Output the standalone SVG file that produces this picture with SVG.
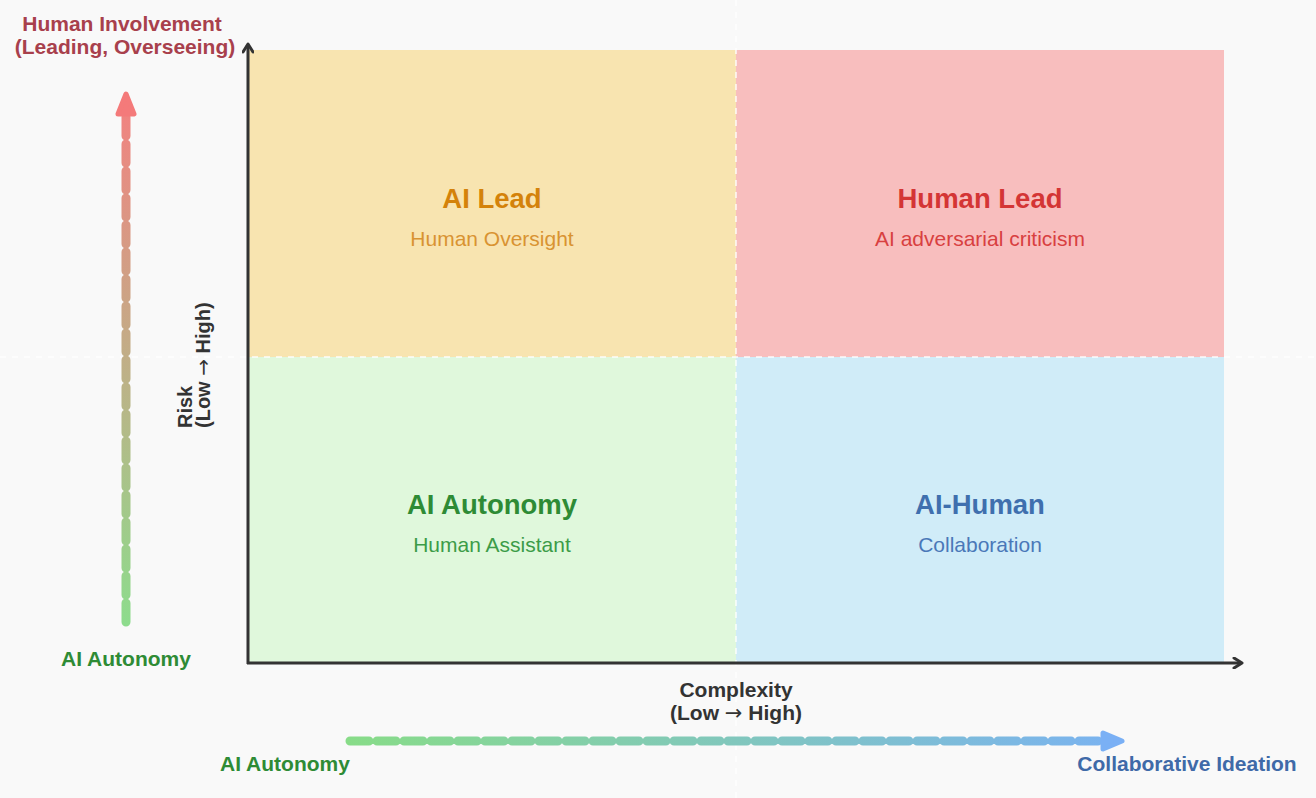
<svg xmlns="http://www.w3.org/2000/svg" width="1316" height="798" viewBox="0 0 1316 798">
<style>
text{font-family:"Liberation Sans",Arial,sans-serif}
.title{font-size:27.5px;font-weight:bold;text-anchor:middle}
.sub{font-size:21px;text-anchor:middle}
.lbl{font-size:21px;font-weight:bold;text-anchor:middle}
.arr{font-family:"DejaVu Sans",sans-serif;font-weight:normal}
.axis{stroke:#333;stroke-width:3;fill:none}
.grid{stroke:#ffffff;stroke-width:1.5;stroke-dasharray:6 6;opacity:0.9}
.flow{fill:none;stroke-width:9;stroke-linecap:round;stroke-dasharray:19 8}
</style>
<defs>
<marker id="ah" viewBox="0 0 12 12" refX="9" refY="6" markerWidth="12" markerHeight="12" markerUnits="userSpaceOnUse" orient="auto">
<path d="M2,1 L10,6 L2,11" fill="none" stroke="#333" stroke-width="3" stroke-linejoin="round" stroke-linecap="round"/>
</marker>
<linearGradient id="gv" gradientUnits="userSpaceOnUse" x1="126" y1="626" x2="126" y2="92">
<stop offset="0" stop-color="#8ddc8d"/>
<stop offset="1" stop-color="#f48080"/>
</linearGradient>
<linearGradient id="gh" gradientUnits="userSpaceOnUse" x1="346" y1="741" x2="1126" y2="741">
<stop offset="0" stop-color="#88dc88"/>
<stop offset="1" stop-color="#7ab2f2"/>
</linearGradient>
</defs>
<rect width="1316" height="798" fill="#f9f9f9"/>
<g id="quadrant-ai-lead">
<rect x="248" y="50" width="488" height="307" fill="#f8e4b0"/>
<text class="title" x="492" y="208" fill="#d4820a">AI Lead</text>
<text class="sub" x="492" y="246" fill="#d99332">Human Oversight</text>
</g>
<g id="quadrant-human-lead">
<rect x="736" y="50" width="488" height="307" fill="#f8bebe"/>
<text class="title" x="980" y="208" fill="#d43535">Human Lead</text>
<text class="sub" x="980" y="246" fill="#d84040">AI adversarial criticism</text>
</g>
<g id="quadrant-ai-autonomy">
<rect x="248" y="357" width="488" height="306" fill="#e0f8dc"/>
<text class="title" x="492" y="514" fill="#2e8b35">AI Autonomy</text>
<text class="sub" x="492" y="552" fill="#3c9c48">Human Assistant</text>
</g>
<g id="quadrant-ai-human">
<rect x="736" y="357" width="488" height="306" fill="#d0ecf8"/>
<text class="title" x="980" y="514" fill="#3f6fae">AI-Human</text>
<text class="sub" x="980" y="552" fill="#4a78b8">Collaboration</text>
</g>
<g id="grid-lines">
<line class="grid" x1="0" y1="357" x2="1316" y2="357"/>
<line class="grid" x1="736" y1="0" x2="736" y2="798"/>
</g>
<g id="connectors">
<line class="axis" x1="248" y1="664" x2="248" y2="45" marker-end="url(#ah)"/>
<line class="axis" x1="247" y1="663" x2="1241" y2="663" marker-end="url(#ah)"/>
<line class="flow" x1="126" y1="622" x2="126" y2="114" stroke="url(#gv)"/>
<path d="M126,94 L134,114 L118,114 Z" fill="#f47a7a" stroke="#f47a7a" stroke-width="5" stroke-linejoin="round"/>
<line class="flow" x1="350" y1="741" x2="1102" y2="741" stroke="url(#gh)"/>
<path d="M1122,741 L1103,733 L1103,749 Z" fill="#7ab0f5" stroke="#7ab0f5" stroke-width="5" stroke-linejoin="round"/>
</g>
<g id="axis-labels">
<text class="lbl" x="736" y="697" fill="#333" font-size="20.5">Complexity</text>
<text class="lbl" x="736" y="720" fill="#333" font-size="20.5">(Low <tspan class="arr">→</tspan> High)</text>
<g transform="translate(192,428) rotate(-90)">
<text x="0" y="0" font-size="20" font-weight="bold" fill="#333">Risk</text>
<text x="0" y="18" font-size="20" font-weight="bold" fill="#333">(Low <tspan class="arr">→</tspan> High)</text>
</g>
</g>
<g id="flow-labels">
<text class="lbl" x="122" y="31" fill="#a8404c" font-size="22">Human Involvement</text>
<text class="lbl" x="125" y="54" fill="#a8404c" font-size="22">(Leading, Overseeing)</text>
<text class="lbl" x="126" y="666" fill="#2e8b35">AI Autonomy</text>
<text class="lbl" x="285" y="771" fill="#2e8b35">AI Autonomy</text>
<text class="lbl" x="1187" y="771" fill="#3f6aa8">Collaborative Ideation</text>
</g>
</svg>
